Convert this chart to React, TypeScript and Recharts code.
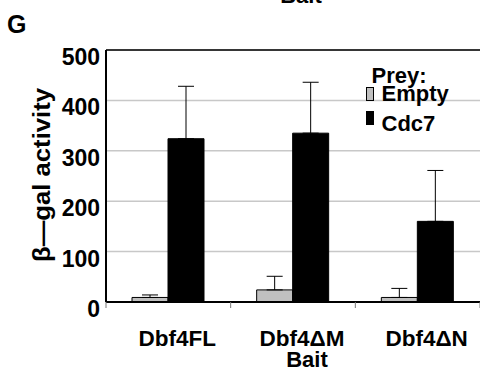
import { BarChart, Bar, XAxis, YAxis, CartesianGrid, ErrorBar, Legend, ReferenceLine } from "recharts";

const baits = ["Dbf4FL", "Dbf4\u0394M", "Dbf4\u0394N"];
const emptyValues = [9, 24, 9];
const emptyErrors = [5, 27, 18];
const cdc7Values = [324, 335, 160];
const cdc7Errors = [104, 101, 101];
const yTicks = [0, 100, 200, 300, 400, 500];
const preyOrder = ["Empty", "Cdc7"];

const data = baits.map((bait, i) => ({
  bait,
  empty: emptyValues[i],
  emptyErr: [0, emptyErrors[i]],
  cdc7: cdc7Values[i],
  cdc7Err: [0, cdc7Errors[i]],
}));

const FONT = '"Liberation Sans", Arial, sans-serif';
const W = 482;
const H = 382;
const LEFT = 106;
const PLOT_RIGHT = 480;
const BAND = (PLOT_RIGHT - LEFT) / baits.length;

const BaitTick = (props: any) => {
  const { x, y, payload, index } = props;
  const half = BAND / 2;
  return (
    <g>
      <line x1={x - half} x2={x - half} y1={y} y2={y + 6} stroke="#777" strokeWidth={1} />
      {index === baits.length - 1 && (
        <line x1={x + half} x2={x + half} y1={y} y2={y + 6} stroke="#777" strokeWidth={1} />
      )}
      <text x={x + 9} y={y + 44} textAnchor="middle" fontFamily={FONT} fontWeight="bold" fontSize={22.5} fill="#000">
        {payload.value}
      </text>
    </g>
  );
};

const ValueTick = (props: any) => {
  const { x, y, payload } = props;
  return (
    <text x={x} y={y + 15} textAnchor="end" fontFamily={FONT} fontWeight="bold" fontSize={23} fill="#000">
      {payload.value}
    </text>
  );
};

const PreyLegend = (props: any) => {
  const items = [...(props.payload || [])].sort(
    (a: any, b: any) => preyOrder.indexOf(a.value) - preyOrder.indexOf(b.value)
  );
  return (
    <svg width={110} height={75} style={{ display: "block" }}>
      <text x={7.5} y={21} fontFamily={FONT} fontWeight="bold" fontSize={22} fill="#000">
        Prey:
      </text>
      {items.map((it: any, i: number) => (
        <g key={it.value}>
          <rect x={2.5} y={25.5 + i * 24} width={7} height={13} fill={it.color} stroke="#000" strokeWidth={1} />
          <text x={17.5} y={39 + i * 30} fontFamily={FONT} fontWeight="bold" fontSize={22} fill="#000">
            {it.value}
          </text>
        </g>
      ))}
    </svg>
  );
};

export default function App() {
  return (
    <div style={{ position: "absolute", left: 0, top: 0, width: 480, height: 382, overflow: "hidden", background: "#fff" }}>
      <BarChart
        width={W}
        height={H}
        data={data}
        margin={{ top: 50, right: W - PLOT_RIGHT, bottom: 0, left: 0 }}
        barGap={0}
      >
        <CartesianGrid horizontal vertical={false} stroke="#c8c8c8" strokeWidth={1.5} />
        <XAxis
          dataKey="bait"
          height={80}
          tickLine={false}
          tickSize={0}
          tickMargin={0}
          tick={<BaitTick />}
          axisLine={{ stroke: "#000", strokeWidth: 2 }}
          interval={0}
        />
        <YAxis
          width={LEFT}
          domain={[0, 500]}
          ticks={yTicks}
          tickLine={false}
          tickSize={0}
          tickMargin={6}
          tick={<ValueTick />}
          axisLine={{ stroke: "#000", strokeWidth: 2 }}
          allowDataOverflow
        />
        <ReferenceLine y={500} stroke="#000" strokeWidth={1.5} />
        <Legend
          layout="vertical"
          align="center"
          verticalAlign="middle"
          content={<PreyLegend />}
          wrapperStyle={{ position: "absolute", left: 364, top: 62, width: 110, height: 75 }}
        />
        <Bar dataKey="empty" name="Empty" fill="#c0c0c0" stroke="#000" strokeWidth={1} barSize={36} isAnimationActive={false}>
          <ErrorBar dataKey="emptyErr" direction="y" width={8} stroke="#000" strokeWidth={1} />
        </Bar>
        <Bar dataKey="cdc7" name="Cdc7" fill="#000" stroke="#000" strokeWidth={1} barSize={36} isAnimationActive={false}>
          <ErrorBar dataKey="cdc7Err" direction="y" width={8} stroke="#000" strokeWidth={1} />
        </Bar>
      </BarChart>
      <svg width={480} height={382} style={{ position: "absolute", left: 0, top: 0, pointerEvents: "none" }}>
        <text x={301} y={3} textAnchor="middle" fontFamily={FONT} fontWeight="bold" fontSize={22} fill="#000">
          Bait
        </text>
        <text x={7} y={33} fontFamily={FONT} fontWeight="bold" fontSize={25} fill="#000">
          G
        </text>
        <text
          x={50}
          y={175}
          textAnchor="middle"
          transform="rotate(-90, 50, 175)"
          fontFamily={FONT}
          fontWeight="bold"
          fontSize={24}
          textLength={174}
          lengthAdjust="spacingAndGlyphs"
          fill="#000"
        >
          {"\u03B2\u2014gal activity"}
        </text>
        <text x={307} y={367} textAnchor="middle" fontFamily={FONT} fontWeight="bold" fontSize={22} fill="#000">
          Bait
        </text>
      </svg>
    </div>
  );
}
